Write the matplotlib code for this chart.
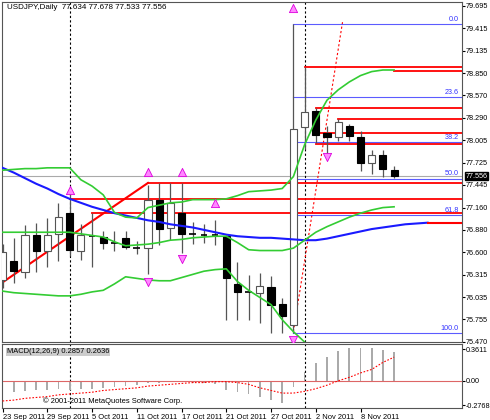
import matplotlib
matplotlib.use("Agg")
import matplotlib.pyplot as plt
import numpy as np

plt.rcParams['font.family'] = ['Liberation Sans', 'DejaVu Sans']

opens  = [76.25,76.49,76.35,76.82,76.62,76.83,77.09,76.62,76.80,76.79,76.71,76.78,76.65,76.65,77.25,76.90,77.09,76.83,76.82,76.82,76.80,76.20,76.10,76.09,76.16,75.95,75.69,78.17,78.37,78.10,78.05,78.19,78.05,77.72,77.82,77.634]
highs  = [76.70,76.78,76.94,76.97,77.03,77.22,77.40,76.95,77.09,76.87,76.87,76.87,76.74,77.45,77.47,77.47,77.47,76.98,76.95,77.00,76.82,76.48,76.31,76.34,76.30,76.02,79.47,78.93,78.41,78.19,78.28,78.21,78.12,77.88,77.88,77.678]
lows   = [76.15,76.21,76.27,76.35,76.41,76.49,76.55,76.50,76.41,76.64,76.62,76.64,76.58,76.32,76.69,76.75,76.59,76.70,76.72,76.69,75.75,75.75,75.75,75.71,75.58,75.58,75.58,77.90,77.97,77.84,78.00,78.00,77.62,77.58,77.55,77.533]
closes = [76.60,76.36,76.82,76.62,76.82,77.04,76.63,76.82,76.80,76.71,76.71,76.67,76.65,77.25,76.89,77.22,76.83,76.83,76.82,76.82,76.27,76.10,76.10,76.17,75.94,75.80,78.15,78.36,78.07,78.05,78.24,78.06,77.72,77.82,77.64,77.556]

ma_blue = [77.66,77.60,77.53,77.46,77.40,77.33,77.27,77.22,77.17,77.13,77.09,77.06,77.03,77.00,76.98,76.95,76.93,76.91,76.88,76.85,76.82,76.80,76.79,76.78,76.78,76.77,76.76,76.75,76.75,76.77,76.80,76.83,76.86,76.89,76.91,76.93,76.95,76.96,76.97]
bb_upper = [77.63,77.64,77.65,77.65,77.66,77.66,77.66,77.51,77.43,77.32,77.10,77.04,77.03,77.16,77.19,77.22,77.23,77.26,77.26,77.26,77.27,77.31,77.36,77.37,77.38,77.40,77.55,77.95,78.26,78.51,78.64,78.74,78.82,78.87,78.89,78.89]
bb_mid   = [76.85,76.85,76.85,76.85,76.85,76.85,76.85,76.83,76.81,76.79,76.73,76.68,76.69,76.70,76.72,76.75,76.76,76.78,76.79,76.80,76.80,76.72,76.63,76.62,76.62,76.62,76.65,76.75,76.85,76.92,76.98,77.04,77.09,77.13,77.16,77.17]
bb_lower = [76.11,76.09,76.08,76.07,76.06,76.05,76.05,76.07,76.10,76.12,76.20,76.29,76.27,76.25,76.24,76.24,76.28,76.32,76.36,76.38,76.39,76.23,76.12,76.03,75.94,75.75,75.60,75.47]

red_levels = [77.47,77.27,77.09,78.93,78.88,78.41,78.27,78.10,77.96]
red_starts = [13,6,8,27,35,28,30,28,28]

fib_levels = ["0.0","23.6","38.2","50.0","61.8","100.0"]
fib_high, fib_low = 79.47, 75.58

macd_hist = [-0.12,-0.13,-0.12,-0.11,-0.10,-0.09,-0.10,-0.09,-0.09,-0.08,-0.07,-0.06,-0.05,-0.03,-0.02,-0.01,-0.01,-0.02,-0.03,-0.04,-0.10,-0.13,-0.15,-0.19,-0.22,-0.25,-0.07,0.10,0.20,0.27,0.34,0.37,0.37,0.37,0.35,0.33]
macd_signal = [-0.23,-0.22,-0.20,-0.19,-0.18,-0.16,-0.15,-0.14,-0.13,-0.11,-0.10,-0.09,-0.08,-0.06,-0.05,-0.04,-0.03,-0.02,-0.02,-0.01,-0.01,-0.02,-0.04,-0.08,-0.11,-0.14,-0.14,-0.12,-0.09,-0.05,0.00,0.04,0.09,0.13,0.21,0.27]

date_labels = ["23 Sep 2011","29 Sep 2011","5 Oct 2011","11 Oct 2011","17 Oct 2011","21 Oct 2011","27 Oct 2011","2 Nov 2011","8 Nov 2011"]
date_idx = [0,4,8,12,16,20,24,28,32]
price_ticks = [79.695,79.415,79.135,78.850,78.570,78.290,78.005,77.725,77.445,77.160,76.880,76.600,76.315,76.035,75.755,75.470]

W, H = 490, 420
fig = plt.figure(figsize=(4.9, 4.2), dpi=100)
fs = 5.2
ax = fig.add_axes([2/W, 1-342/H, 460/W, 340/H])
mx = fig.add_axes([2/W, 1-408/H, 460/W, 64/H], sharex=ax)
XMAX = 460/11.2
ax.set_xlim(-0.05, XMAX)
ax.set_ylim(75.47, 79.745)
mx.set_ylim(-0.31, 0.42)

n = len(opens)
for i in range(n):
    o, h, l, c = opens[i], highs[i], lows[i], closes[i]
    ax.vlines(i, l, h, color='#555555', lw=0.9, zorder=3)
    lo, hi = min(o, c), max(o, c)
    if abs(c - o) < 0.02:
        ax.hlines(c, i-0.3, i+0.3, color='black', lw=1.2, zorder=4)
    else:
        ax.add_patch(plt.Rectangle((i-0.32, lo), 0.64, hi-lo, facecolor='white' if c > o else 'black',
                                   edgecolor='#555555' if c > o else 'black', lw=0.8, zorder=4))

ax.plot(range(len(ma_blue)), ma_blue, color='#1a1aff', lw=1.5, zorder=5)
ax.plot([len(ma_blue)-1, XMAX], [ma_blue[-1]]*2, color='red', lw=1.5, zorder=5)
for arr in (bb_upper, bb_mid, bb_lower):
    ax.plot(range(len(arr)), arr, color='#33cc33', lw=1.2, zorder=5)

for lv, st in zip(red_levels, red_starts):
    ax.plot([st, XMAX], [lv, lv], color='red', lw=1.3, zorder=2)
ax.plot([0, 13], [76.22, 77.47], color='red', lw=1.5, zorder=2)
ax.plot([26, 30.4], [75.60, 79.50], color='red', lw=0.8, ls=(0, (2, 2)), zorder=2)

for lab in fib_levels:
    v = fib_high - (fib_high - fib_low) * float(lab) / 100
    ax.plot([26, XMAX], [v, v], color='#3333ff', lw=0.8, alpha=0.8, zorder=2)
    ax.text(XMAX-0.3, v+0.015, lab, color='#3333ff', fontsize=5.2, ha='right', va='bottom')

ax.axhline(closes[-1], color='#aaaaaa', lw=0.8, zorder=1)
for xv in (6, 27):
    for a in (ax, mx):
        a.axvline(xv, color='black', lw=0.8, ls=(0, (2, 2)), zorder=1)

up = [(6, 77.38), (13, 77.61), (16, 77.61), (19, 77.22), (26, 79.67)]
dn = [(16, 76.51), (13, 76.22), (29, 77.80), (26, 75.50)]
ax.scatter(*zip(*up), marker='^', s=35, facecolor='#ff88ff', edgecolor='#dd00dd', lw=0.6, zorder=6)
ax.scatter(*zip(*dn), marker='v', s=35, facecolor='#ff88ff', edgecolor='#dd00dd', lw=0.6, zorder=6)

ax.text(0.01, 0.995, "USDJPY,Daily  77.634 77.678 77.533 77.556", transform=ax.transAxes, fontsize=5.8, va='top')

ax.yaxis.tick_right()
ax.set_yticks(price_ticks)
ax.set_yticklabels([f"{t:.3f}" for t in price_ticks], fontsize=fs)
ax.tick_params(axis='y', length=2, pad=1)
ax.text(XMAX+0.3, closes[-1], "77.556", fontsize=fs, color='white', va='center', ha='left',
        bbox=dict(boxstyle='square,pad=0.1', fc='black', ec='black'), clip_on=False)
ax.tick_params(axis='x', bottom=False, labelbottom=False)

mx.bar(range(n), macd_hist, width=0.15, color='#aaaaaa', zorder=2)
mx.plot(range(n), macd_signal, color='red', lw=0.8, ls=(0, (1.5, 1.5)), zorder=3)
mx.axhline(0, color='#dd6666', lw=0.8)
mx.yaxis.tick_right()
mx.set_yticks([0.3611, 0.0, -0.2768])
mx.set_yticklabels(["0.3611", "0.00", "-0.2768"], fontsize=fs)
mx.tick_params(axis='y', length=2, pad=1)
mx.text(0.01, 0.93, "MACD(12,26,9) 0.2857 0.2636", transform=mx.transAxes, fontsize=5.4, va='top',
        bbox=dict(boxstyle='square,pad=0.1', fc='#cccccc', ec='none'))
mx.text(0.09, 0.05, "© 2001-2011 MetaQuotes Software Corp.", transform=mx.transAxes, fontsize=5.4, va='bottom')
mx.set_xticks(date_idx)
mx.set_xticklabels(date_labels, fontsize=5.4, ha='left')
mx.tick_params(axis='x', length=3, pad=1)

for a in (ax, mx):
    for s in a.spines.values():
        s.set_color('#555555')
        s.set_linewidth(0.8)

fig.savefig("out.png", dpi=100)
